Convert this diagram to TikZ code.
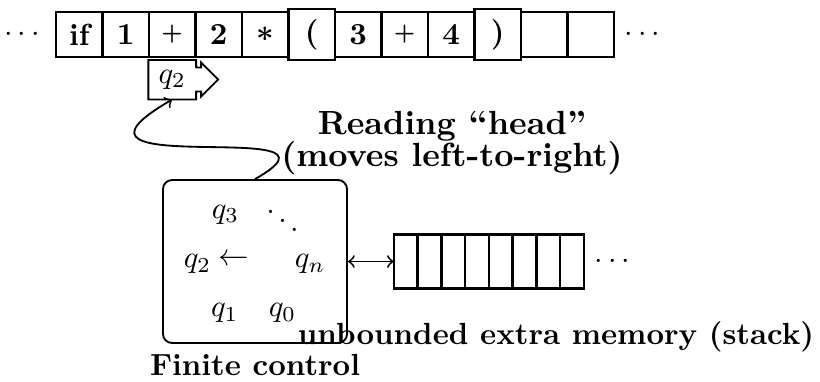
\documentclass[tikz,border=0pt]{standalone}
\usepackage{amsmath,amssymb}
\usepackage{tikz}
\usetikzlibrary{positioning, calc}

\begin{document}
\begin{tikzpicture}[
    x=0.327pt, y=-0.327pt,
    cell/.style={rectangle, draw, thick, outer sep=0pt,
                 minimum width=15.2pt, minimum height=14.7pt,
                 inner sep=3.33pt, font=\bfseries},
    stackcell/.style={rectangle, draw, thick, outer sep=0pt,
                 minimum width=7.77pt, minimum height=17.7pt, inner sep=0pt},
    control/.style={rectangle, draw, semithick, rounded corners=3pt,
                 minimum width=60.2pt, minimum height=53.3pt},
    headbox/.style={minimum width=15.2pt, inner sep=3.33pt, outer sep=0pt},
    arr/.style={->, semithick},
    note/.style={font=\bfseries},
    bignote/.style={font=\bfseries\fontsize{10.95}{12}\selectfont, inner sep=0pt},
]
\useasboundingbox (0,0) rectangle (820,381);

% Row 1: input tape
\node[cell] (c1) at (79.25,34.5) {if};
\node[cell, right=0pt of c1] (c2) {1};
\node[cell, right=0pt of c2] (c3) {{\scriptsize +}};
\node[cell, right=0pt of c3] (c4) {2};
\node[cell, right=0pt of c4] (c5) {{\boldmath$*$}};
\node[cell, right=0pt of c5] (c6) {(};
\node[cell, right=0pt of c6] (c7) {3};
\node[cell, right=0pt of c7] (c8) {{\scriptsize +}};
\node[cell, right=0pt of c8] (c9) {4};
\node[cell, right=0pt of c9] (c10) {)};
\node[cell, right=0pt of c10] (c11) {};
\node[cell, right=0pt of c11] (c12) {};
\node[left=0pt of c1] (tapestart) {$\cdots$};
\node[right=0pt of c12] (tapeend) {$\cdots$};

% Row 2: reading head
\node[headbox, below=1pt of c3] (head) {$q_2$};
\draw[semithick] (head.east) ++(0,-12) -- (head.north east) -- (head.north west)
    -- (head.south west) -- (head.south east) -- ++(0,-8) -- ++(5,0)
    -- ++(0,5) -- ++(17,-17) -- ++(-17,-17) -- ++(0,5) -- ++(-5,0) -- cycle;
\node[bignote, anchor=base] (reading) at (452,134.5) {Reading ``head''};
\node[bignote, anchor=base] (moves) at (452,166.5) {(moves left-to-right)};

% Row 3: finite control
\node[control] (fc) at (255,261.5) {};
\node (q3) at ($(fc.center)+(-29.5,-47)$) {$q_3$};
\node (dd) at ($(fc.center)+(27.5,-50)$) {$\ddots$};
\node (q2) at ($(fc.center)+(-57.5,2.8)$) {$q_2$};
\node (larr) at ($(fc.center)+(-21,-1.5)$) {$\leftarrow$};
\node (qn) at ($(fc.center)+(55,2.8)$) {$q_n$};
\node (q1) at ($(fc.center)+(-30.3,51.5)$) {$q_1$};
\node (q0) at ($(fc.center)+(27.5,51.5)$) {$q_0$};
\node[note, below=0pt of fc] (fclabel) {Finite control};

% Row 3: stack
\node[stackcell, right=15pt of fc] (s1) {};
\node[stackcell, right=0pt of s1] (s2) {};
\node[stackcell, right=0pt of s2] (s3) {};
\node[stackcell, right=0pt of s3] (s4) {};
\node[stackcell, right=0pt of s4] (s5) {};
\node[stackcell, right=0pt of s5] (s6) {};
\node[stackcell, right=0pt of s6] (s7) {};
\node[stackcell, right=0pt of s7] (s8) {};
\node[right=0pt of s8] (stackend) {$\cdots$};
\node[note, anchor=base] (stacklabel) at (556,344) {unbounded extra memory (stack)};

% Arrows
\draw[arr] (fc.north) .. controls +(115,-65) and +(-147,85) .. (head.south);
\draw[<->, semithick] (fc) -- (s1);

\end{tikzpicture}
\end{document}
